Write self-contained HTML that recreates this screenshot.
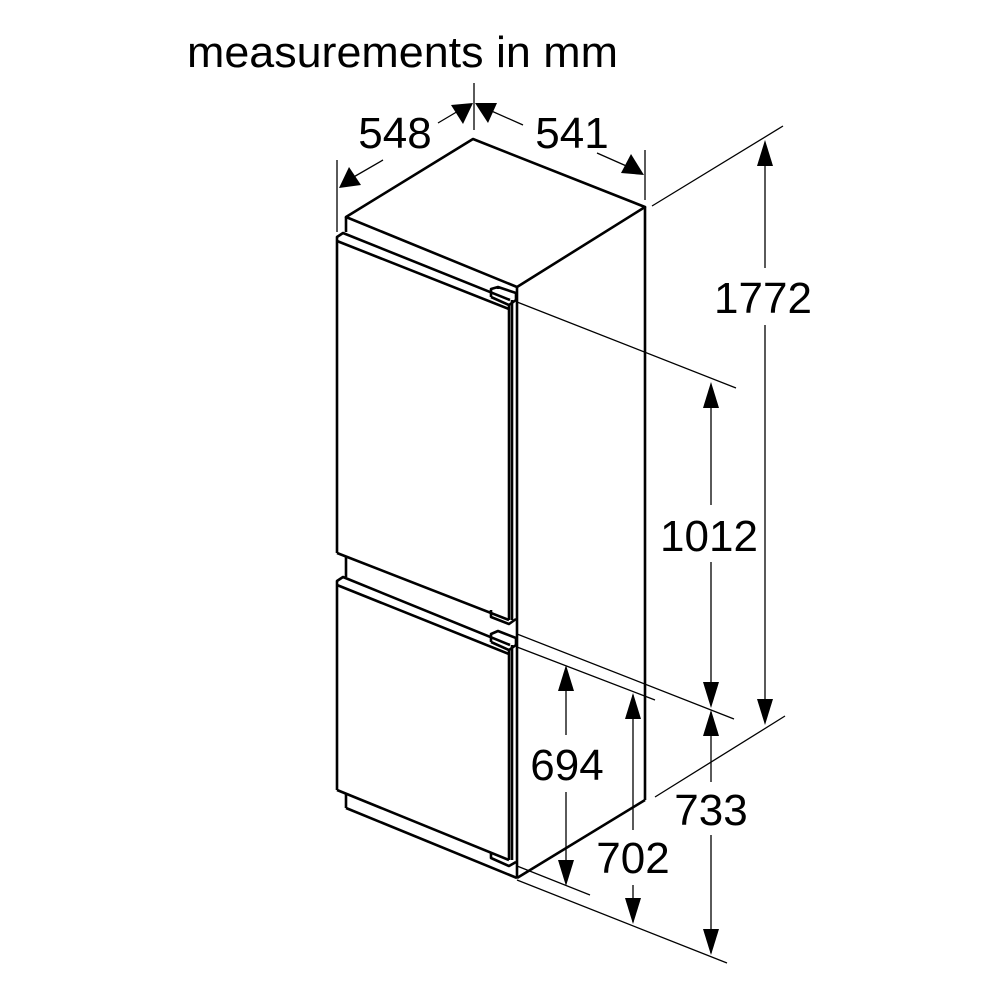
<!DOCTYPE html>
<html><head><style>
html,body{margin:0;padding:0;background:#fff;}
svg{display:block;}
text{font-family:"Liberation Sans",sans-serif;fill:#000;}
</style></head><body>
<svg width="1000" height="1000" viewBox="0 0 1000 1000" xmlns="http://www.w3.org/2000/svg">
<rect width="1000" height="1000" fill="#fff"/>
<text x="187" y="67" font-size="44" textLength="431" lengthAdjust="spacingAndGlyphs">measurements in mm</text>

<!-- cabinet -->
<g fill="none" stroke="#000" stroke-width="2.6" stroke-linejoin="round">
  <polygon points="346,217 473,139 645,207 517,287" fill="#fff"/>
  <line x1="645" y1="207" x2="645" y2="800"/>
  <line x1="645" y1="800" x2="517" y2="878"/>
  <line x1="517" y1="287" x2="517" y2="878"/>
  <line x1="346" y1="217" x2="346" y2="232"/>
  <polyline points="337,553 337,237 343,233 510,300"/>
  <line x1="337" y1="241" x2="509" y2="309"/>
  <line x1="509" y1="305" x2="509" y2="620"/>
  <line x1="512" y1="300" x2="512" y2="620"/>
  <line x1="337" y1="553" x2="509" y2="620"/>
  <polyline points="491,297 491,289 498,287 516,293 516,300 509,305 491,297"/>
  <line x1="498" y1="287" x2="498" y2="289"/>
  <polyline points="491,610 491,617 509,624 516,619"/>
  <line x1="346" y1="557" x2="346" y2="577"/>
  <polyline points="337,790 337,581 343,577 510,645"/>
  <line x1="337" y1="585" x2="509" y2="654"/>
  <line x1="509" y1="650" x2="509" y2="860"/>
  <line x1="512" y1="645" x2="512" y2="860"/>
  <line x1="337" y1="790" x2="509" y2="860"/>
  <polyline points="491,642 491,634 498,631 516,638 516,645 509,650 491,642"/>
  <polyline points="491,852 491,858 509,866 516,862"/>
  <line x1="346" y1="794" x2="346" y2="808"/>
  <line x1="346" y1="808" x2="517" y2="878"/>
</g>

<g stroke="#000" stroke-width="1.3" fill="none">
  <line x1="337" y1="160" x2="337" y2="232"/>
  <line x1="474" y1="83" x2="474" y2="130"/>
  <line x1="645" y1="150" x2="645" y2="200"/>
  <line x1="345" y1="182" x2="383" y2="160"/>
  <line x1="438" y1="123" x2="470" y2="104"/>
  <line x1="478" y1="105" x2="523" y2="125"/>
  <line x1="597" y1="153" x2="640" y2="172"/>
  <line x1="652" y1="206" x2="783" y2="126"/>
  <line x1="655" y1="797" x2="785" y2="716"/>
  <line x1="765" y1="145" x2="765" y2="268"/>
  <line x1="765" y1="325" x2="765" y2="720"/>
  <line x1="517" y1="302" x2="736" y2="388"/>
  <line x1="517" y1="634" x2="734" y2="719"/>
  <line x1="711" y1="385" x2="711" y2="505"/>
  <line x1="711" y1="562" x2="711" y2="705"/>
  <line x1="711" y1="712" x2="711" y2="782"/>
  <line x1="711" y1="835" x2="711" y2="953"/>
  <line x1="517" y1="880" x2="727" y2="963"/>
  <line x1="517" y1="647" x2="655" y2="700"/>
  <line x1="633" y1="695" x2="633" y2="830"/>
  <line x1="633" y1="885" x2="633" y2="922"/>
  <line x1="566" y1="668" x2="566" y2="735"/>
  <line x1="566" y1="792" x2="566" y2="883"/>
  <line x1="517" y1="866" x2="590" y2="895"/>
</g>

<g fill="#000" stroke="none">
  <polygon points="339,188 349,167 361,185"/>
  <polygon points="473,103 451,105 463,124"/>
  <polygon points="475,103 497,103 488,123"/>
  <polygon points="644,175 621,173 631,154"/>
  <polygon points="765,140 757,166 773,166"/>
  <polygon points="765,725 757,699 773,699"/>
  <polygon points="711,382 703,408 719,408"/>
  <polygon points="711,708 703,682 719,682"/>
  <polygon points="711,710 703,736 719,736"/>
  <polygon points="711,955 703,929 719,929"/>
  <polygon points="633,693 625,719 641,719"/>
  <polygon points="633,924 625,898 641,898"/>
  <polygon points="566,665 558,691 574,691"/>
  <polygon points="566,886 558,860 574,860"/>
</g>

<g font-size="44" text-anchor="middle">
  <text x="395" y="148">548</text>
  <text x="572" y="148">541</text>
  <text x="763" y="313">1772</text>
  <text x="709" y="551">1012</text>
  <text x="567" y="780">694</text>
  <text x="711" y="825">733</text>
  <text x="633" y="873">702</text>
</g>
</svg>
</body></html>
